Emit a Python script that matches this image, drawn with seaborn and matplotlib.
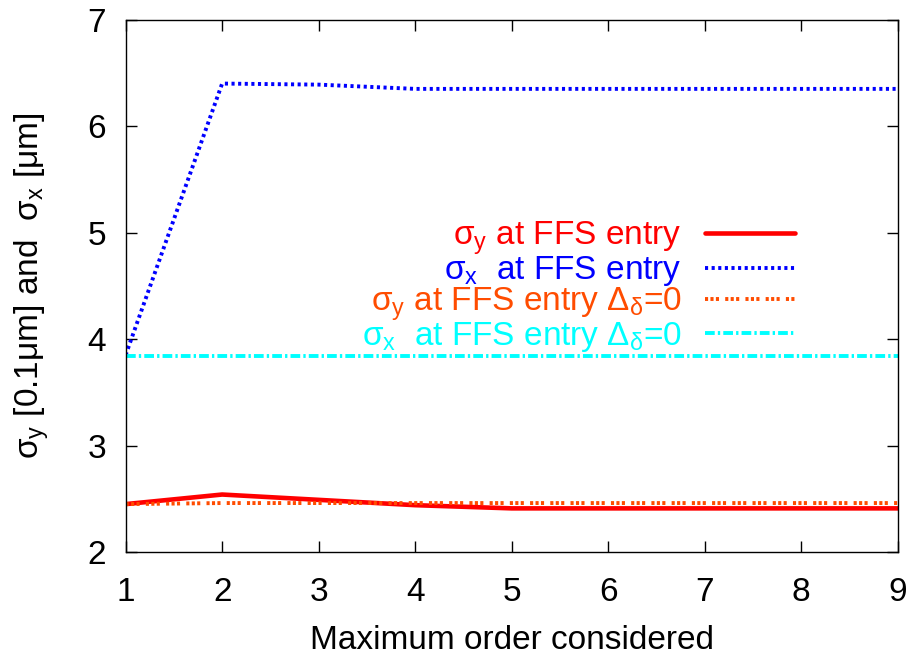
import matplotlib
matplotlib.use('Agg')
import matplotlib.pyplot as plt
import seaborn as sns
import pandas as pd

order = [1, 2, 3, 4, 5, 6, 7, 8, 9]
sigy_ffs = [2.45, 2.54, 2.49, 2.44, 2.41, 2.41, 2.41, 2.41, 2.41]
sigx_ffs = [3.85, 6.40, 6.39, 6.35, 6.35, 6.35, 6.35, 6.35, 6.35]
sigy_d0 = [2.45, 2.46, 2.46, 2.46, 2.46, 2.46, 2.46, 2.46, 2.46]
sigx_d0 = [3.84, 3.84, 3.84, 3.84, 3.84, 3.84, 3.84, 3.84, 3.84]

labels = ['σ$_\\mathrm{y}$ at FFS entry',
          'σ$_\\mathrm{x}$  at FFS entry',
          'σ$_\\mathrm{y}$ at FFS entry Δ$_\\mathrm{δ}$=0',
          'σ$_\\mathrm{x}$  at FFS entry Δ$_\\mathrm{δ}$=0']
colors = ['#ff0000', '#0000ff', '#ff4c00', '#00ffff']

sns.set_style('ticks')
plt.rcParams['font.family'] = ['Liberation Sans', 'DejaVu Sans']
plt.rcParams['mathtext.fontset'] = 'custom'
plt.rcParams['mathtext.rm'] = 'Liberation Sans'
plt.rcParams['mathtext.it'] = 'Liberation Sans'
plt.rcParams['text.color'] = 'black'
plt.rcParams['axes.labelcolor'] = 'black'
plt.rcParams['axes.edgecolor'] = 'black'
plt.rcParams['xtick.color'] = 'black'
plt.rcParams['ytick.color'] = 'black'

fs = 24
fig = plt.figure(figsize=(9.17, 6.56), dpi=100)
ax = fig.add_axes([0.137, 0.1585, 0.842, 0.8115])

df = pd.DataFrame({'order': order, 'a': sigy_ffs, 'b': sigx_ffs, 'c': sigy_d0, 'd': sigx_d0})
styles = ['-', (0, (0.8, 0.9)), (0, (0.8, 0.6, 0.8, 0.6, 0.8, 1.6)), (0, (2.5, 0.8, 0.6, 0.8))]
widths = [3.3, 2.8, 2.8, 2.8]
for col, lab, c, ls, lw in zip(['a', 'b', 'c', 'd'], labels, colors, styles, widths):
    sns.lineplot(data=df, x='order', y=col, ax=ax, color=c, linestyle=ls, linewidth=lw, label=lab)

ax.set_xlim(1, 9)
ax.set_ylim(2, 7)
ax.set_xticks(range(1, 10))
ax.set_yticks(range(2, 8))
ax.tick_params(axis='both', direction='in', top=True, right=True, labelsize=fs, length=8, width=1)
ax.tick_params(axis='x', pad=18)
ax.tick_params(axis='y', pad=14)
for s in ax.spines.values():
    s.set_linewidth(1.0)
ax.set_xlabel('Maximum order considered', fontsize=fs, labelpad=12)
ax.set_ylabel('σ$_\\mathrm{y}$ [0.1μm] and  σ$_\\mathrm{x}$ [μm]', fontsize=fs, labelpad=26)

leg = ax.legend(loc='upper right', bbox_to_anchor=(0.867, 0.624), frameon=False,
                markerfirst=False, fontsize=fs, handlelength=2.7, labelspacing=-0.09,
                borderpad=0, borderaxespad=0, handletextpad=0.7)
for t, c in zip(leg.get_texts(), colors):
    t.set_color(c)
leg._legend_box.align = 'right'
for vp in leg._legend_box.get_children()[1].get_children():
    vp.align = 'right'

fig.savefig('out.png', dpi=100)
